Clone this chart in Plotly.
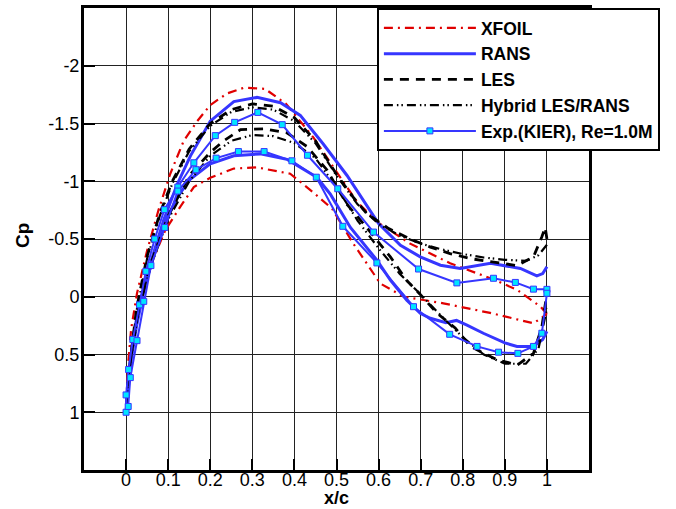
import plotly.graph_objects as go

# ---------------- data ----------------
xfoil_up_x = [0.0, 0.004, 0.012, 0.026, 0.05, 0.077, 0.105, 0.137, 0.169, 0.2, 0.24, 0.28, 0.33, 0.38, 0.445, 0.493, 0.549, 0.6, 0.675, 0.77, 0.873, 0.929, 0.985, 1.0]
xfoil_up_cp = [1.0, 0.62, 0.28, -0.03, -0.40, -0.75, -1.065, -1.35, -1.52, -1.66, -1.76, -1.81, -1.80, -1.67, -1.38, -1.12, -0.82, -0.64, -0.46, -0.29, -0.15, -0.06, 0.086, 0.15]
xfoil_lo_x = [0.0, 0.008, 0.02, 0.04, 0.065, 0.093, 0.129, 0.161, 0.2, 0.256, 0.311, 0.39, 0.446, 0.49, 0.54, 0.604, 0.66, 0.754, 0.865, 0.968, 1.0]
xfoil_lo_cp = [1.0, 0.62, 0.30, -0.05, -0.33, -0.575, -0.78, -0.95, -1.03, -1.11, -1.12, -1.065, -0.90, -0.76, -0.46, -0.115, 0.0, 0.057, 0.14, 0.23, 0.15]

rans_up_x = [0.0, 0.008, 0.018, 0.034, 0.058, 0.089, 0.121, 0.153, 0.2, 0.256, 0.311, 0.367, 0.414, 0.469, 0.525, 0.6, 0.652, 0.699, 0.747, 0.794, 0.866, 0.937, 0.976, 0.99, 1.0]
rans_up_cp = [1.0, 0.62, 0.32, 0.03, -0.29, -0.66, -0.97, -1.22, -1.52, -1.69, -1.726, -1.68, -1.57, -1.32, -1.05, -0.633, -0.446, -0.345, -0.273, -0.245, -0.29, -0.245, -0.18, -0.20, -0.26]
rans_lo_x = [0.0, 0.01, 0.025, 0.045, 0.07, 0.1, 0.125, 0.153, 0.2, 0.256, 0.319, 0.382, 0.453, 0.485, 0.533, 0.596, 0.628, 0.667, 0.699, 0.723, 0.76, 0.785, 0.81, 0.849, 0.9, 0.929, 0.968, 0.99, 1.0]
rans_lo_cp = [1.0, 0.60, 0.25, -0.10, -0.40, -0.70, -0.88, -1.02, -1.15, -1.22, -1.237, -1.19, -1.035, -0.89, -0.60, -0.317, -0.144, 0.03, 0.143, 0.186, 0.225, 0.205, 0.245, 0.316, 0.40, 0.43, 0.43, 0.37, 0.30]

les_up_x = [0.0, 0.01, 0.025, 0.05, 0.08, 0.11, 0.15, 0.2, 0.25, 0.3, 0.35, 0.4, 0.45, 0.5, 0.54, 0.572, 0.624, 0.675, 0.723, 0.77, 0.818, 0.873, 0.929, 0.968, 0.988, 0.996, 1.0]
les_up_cp = [1.0, 0.55, 0.10, -0.35, -0.72, -1.0, -1.28, -1.50, -1.62, -1.67, -1.65, -1.55, -1.35, -1.06, -0.86, -0.72, -0.59, -0.50, -0.43, -0.374, -0.33, -0.30, -0.27, -0.345, -0.52, -0.60, -0.50]
les_lo_x = [0.0, 0.01, 0.03, 0.06, 0.1, 0.15, 0.2, 0.232, 0.272, 0.327, 0.382, 0.43, 0.477, 0.525, 0.564, 0.628, 0.667, 0.699, 0.739, 0.782, 0.818, 0.881, 0.93, 0.968, 0.988, 1.0]
les_lo_cp = [1.0, 0.55, 0.10, -0.30, -0.70, -1.05, -1.25, -1.35, -1.447, -1.453, -1.42, -1.30, -1.10, -0.80, -0.633, -0.345, -0.14, -0.02, 0.143, 0.27, 0.43, 0.546, 0.59, 0.49, 0.26, -0.03]

hyb_up_x = [0.0, 0.01, 0.025, 0.05, 0.08, 0.11, 0.15, 0.2, 0.25, 0.3, 0.35, 0.4, 0.45, 0.5, 0.55, 0.6, 0.65, 0.7, 0.75, 0.8, 0.85, 0.9, 0.95, 0.98, 1.0]
hyb_up_cp = [1.0, 0.57, 0.12, -0.33, -0.70, -0.98, -1.26, -1.48, -1.60, -1.64, -1.62, -1.52, -1.33, -1.05, -0.80, -0.63, -0.53, -0.46, -0.41, -0.37, -0.34, -0.32, -0.31, -0.36, -0.45]
hyb_lo_x = [0.0, 0.01, 0.03, 0.06, 0.1, 0.15, 0.2, 0.25, 0.3, 0.35, 0.4, 0.45, 0.5, 0.55, 0.6, 0.65, 0.7, 0.75, 0.8, 0.85, 0.9, 0.95, 0.98, 1.0]
hyb_lo_cp = [1.0, 0.57, 0.12, -0.28, -0.67, -1.0, -1.22, -1.35, -1.40, -1.39, -1.33, -1.20, -0.95, -0.66, -0.42, -0.20, -0.02, 0.17, 0.35, 0.50, 0.58, 0.58, 0.45, 0.10]

exp_up_x = [0.0, 0.0, 0.006, 0.016, 0.032, 0.047, 0.068, 0.091, 0.123, 0.161, 0.212, 0.258, 0.313, 0.371, 0.431, 0.503, 0.588, 0.695, 0.786, 0.873, 0.925, 0.968, 1.0]
exp_up_cp = [1.0, 0.85, 0.63, 0.37, 0.07, -0.22, -0.50, -0.754, -0.95, -1.16, -1.395, -1.51, -1.596, -1.49, -1.225, -0.935, -0.56, -0.24, -0.12, -0.16, -0.124, -0.066, -0.064]
exp_lo_x = [0.0, 0.005, 0.01, 0.026, 0.042, 0.059, 0.092, 0.123, 0.166, 0.214, 0.267, 0.328, 0.394, 0.452, 0.515, 0.596, 0.683, 0.769, 0.834, 0.885, 0.931, 0.968, 0.988, 1.0]
exp_lo_cp = [1.0, 0.95, 0.70, 0.38, 0.04, -0.27, -0.60, -0.915, -1.10, -1.20, -1.257, -1.257, -1.177, -1.035, -0.61, -0.293, 0.086, 0.325, 0.43, 0.48, 0.49, 0.43, 0.316, -0.03]

x_ticks = [0, 0.1, 0.2, 0.3, 0.4, 0.5, 0.6, 0.7, 0.8, 0.9, 1]
x_tick_text = ["0", "0.1", "0.2", "0.3", "0.4", "0.5", "0.6", "0.7", "0.8", "0.9", "1"]
y_ticks = [-2, -1.5, -1, -0.5, 0, 0.5, 1]
y_tick_text = ["-2", "-1.5", "-1", "-0.5", "0", "0.5", "1"]
x_title = "x/c"
y_title = "Cp"


def loop(ux, ucp, lx, lcp):
    """upper surface from TE to LE, then lower surface from LE to TE"""
    return list(reversed(ux)) + lx[1:], list(reversed(ucp)) + lcp[1:]


FONT = "Liberation Sans, Arial, sans-serif"
BLUE = "#3636ff"
fig = go.Figure()

x, y = loop(xfoil_up_x, xfoil_up_cp, xfoil_lo_x, xfoil_lo_cp)
fig.add_trace(go.Scatter(x=x, y=y, mode="lines", name="<b>XFOIL</b>",
                         line=dict(color="#e00000", width=2.2, dash="9px,5px,2px,5px")))
x, y = loop(rans_up_x, rans_up_cp, rans_lo_x, rans_lo_cp)
fig.add_trace(go.Scatter(x=x, y=y, mode="lines", name="<b>RANS</b>",
                         line=dict(color=BLUE, width=3)))
x, y = loop(les_up_x, les_up_cp, les_lo_x, les_lo_cp)
fig.add_trace(go.Scatter(x=x, y=y, mode="lines", name="<b>LES</b>",
                         line=dict(color="black", width=2.8, dash="9px,7px")))
x, y = loop(hyb_up_x, hyb_up_cp, hyb_lo_x, hyb_lo_cp)
fig.add_trace(go.Scatter(x=x, y=y, mode="lines", name="<b>Hybrid LES/RANS</b>",
                         line=dict(color="black", width=2.2, dash="9px,4px,1.5px,3px,1.5px,4px")))
x, y = loop(exp_up_x, exp_up_cp, exp_lo_x, exp_lo_cp)
fig.add_trace(go.Scatter(x=x, y=y, mode="lines+markers", name="<b>Exp.(KIER), Re=1.0M</b>",
                         line=dict(color=BLUE, width=2),
                         marker=dict(symbol="square", size=6, color="#00e5ff",
                                     line=dict(color=BLUE, width=1))))

axis_common = dict(showline=True, linecolor="black", linewidth=3, mirror=True,
                   showgrid=True, gridcolor="#222222", gridwidth=1, zeroline=False,
                   ticks="inside", ticklen=11, tickwidth=2, tickcolor="black",
                   automargin=False,
                   tickfont=dict(family=FONT, size=18, color="black"))

fig.update_xaxes(range=[-0.1, 1.1], tickvals=x_ticks, ticktext=x_tick_text,
                 ticklabelstandoff=-9, **axis_common)
fig.update_yaxes(range=[1.5, -2.5], tickvals=y_ticks, ticktext=y_tick_text,
                 ticklabelstandoff=-2, **axis_common)

fig.add_annotation(text="<b>" + x_title + "</b>", xref="paper", yref="paper",
                   x=0.5, y=-0.0606, xanchor="center", yanchor="middle", showarrow=False,
                   borderpad=0, font=dict(family=FONT, size=18, color="black"))
fig.add_annotation(text="<b>" + y_title + "</b>", xref="paper", yref="paper",
                   x=-0.1228, y=0.5085, xanchor="center", yanchor="middle", showarrow=False,
                   textangle=-90, font=dict(family=FONT, size=19, color="black"))

fig.update_layout(
    width=676, height=509,
    margin=dict(l=84, r=87, t=8, b=39, autoexpand=False),
    paper_bgcolor="white", plot_bgcolor="white",
    showlegend=True,
    legend=dict(x=0.58, y=1.0, xanchor="left", yanchor="top",
                bgcolor="white", bordercolor="black", borderwidth=2,
                font=dict(family=FONT, size=17.5, color="black"),
                itemwidth=92, tracegroupgap=0,
                traceorder="normal"),
)

fig.write_html("out.html")
